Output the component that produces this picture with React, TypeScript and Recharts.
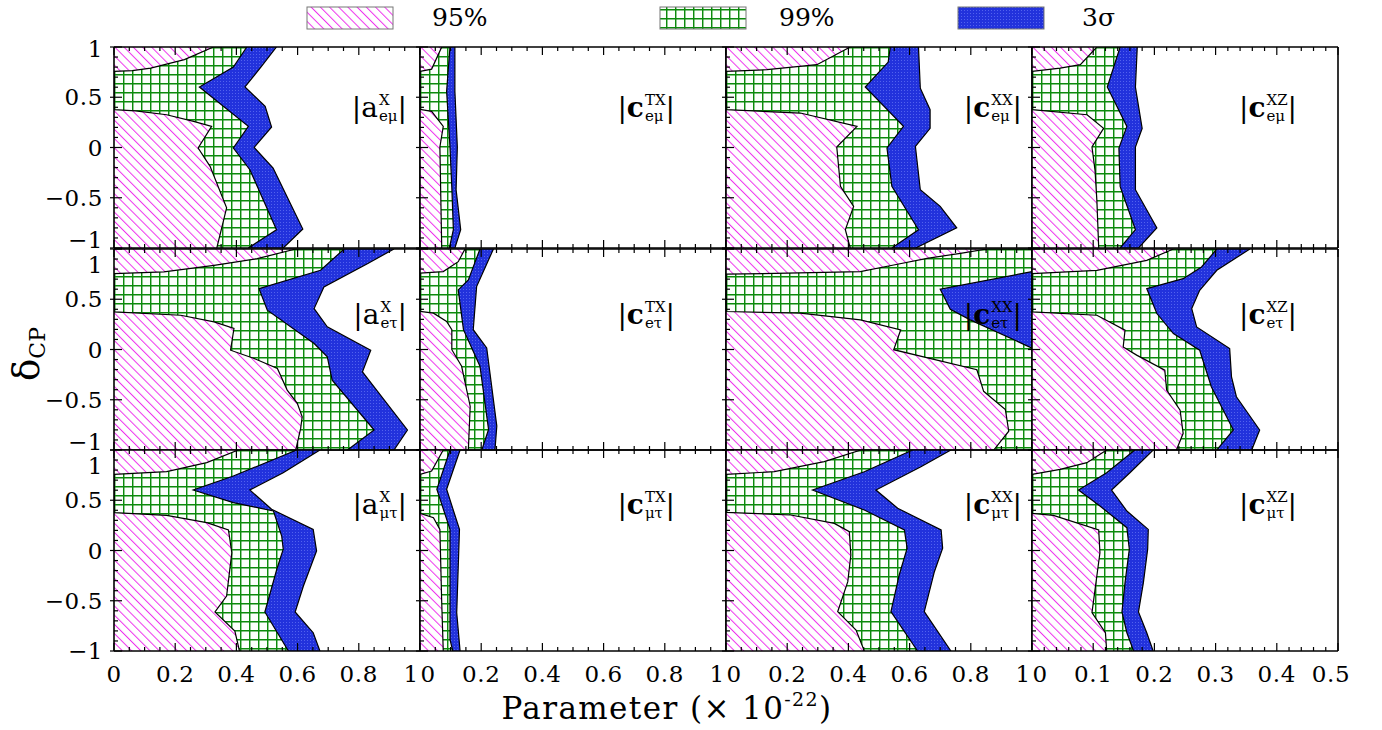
import React from "react";
import { ComposedChart, Area, XAxis, YAxis } from "recharts";

type Pt = [number, number];

// contour boundaries: [deltaCP, parameter]
const aEmu3s: Pt[] = [[-1, 0.553], [-0.811, 0.617], [-0.205, 0.52], [0.001, 0.458], [0.204, 0.515], [0.409, 0.494], [0.602, 0.428], [0.8, 0.48], [1, 0.531]];
const aEmu99: Pt[] = [[-1, 0.439], [-0.818, 0.531], [-0.221, 0.444], [-0.005, 0.39], [0.21, 0.439], [0.602, 0.279], [0.8, 0.39], [1, 0.434]];
const aEmu95: Pt[] = [[-1, 0.336], [-0.6, 0.368], [-0.188, 0.314], [-0.005, 0.275], [0.21, 0.319], [0.26, 0.26], [0.326, 0.172], [0.365, 0.07], [0.376, 0], [0.757, 0], [0.765, 0.06], [0.79, 0.12], [0.874, 0.23], [1, 0.325]];

const cTXemu3s: Pt[] = [[-1, 0.114], [-0.818, 0.133], [-0.42, 0.118], [0.005, 0.122], [0.56, 0.114], [1, 0.114]];
const cTXemu99: Pt[] = [[-1, 0.096], [-0.818, 0.109], [-0.4, 0.104], [0.005, 0.098], [0.56, 0.087], [1, 0.098]];
const cTXemu95: Pt[] = [[-1, 0.071], [0.005, 0.065], [0.21, 0.076], [0.36, 0.038], [0.38, 0], [0.757, 0], [0.78, 0.038], [1, 0.071]];

const cXXemu3s: Pt[] = [[-1, 0.62], [-0.8, 0.754], [-0.585, 0.7], [-0.42, 0.635], [0.01, 0.619], [0.19, 0.667], [0.376, 0.667], [0.59, 0.635], [1, 0.629]];
const cXXemu99: Pt[] = [[-1, 0.542], [-0.818, 0.629], [-0.387, 0.542], [-0.005, 0.526], [0.21, 0.58], [0.602, 0.455], [0.85, 0.53], [1, 0.537]];
const cXXemu95: Pt[] = [[-1, 0.406], [-0.818, 0.39], [-0.586, 0.417], [-0.387, 0.374], [0.005, 0.362], [0.21, 0.428], [0.343, 0.243], [0.376, 0], [0.757, 0], [0.774, 0.134], [0.824, 0.297], [1, 0.406]];

const cXZemu3s: Pt[] = [[-1, 0.174], [-0.8, 0.204], [-0.42, 0.169], [0.005, 0.169], [0.19, 0.18], [0.6, 0.169], [1, 0.172]];
const cXZemu99: Pt[] = [[-1, 0.144], [-0.818, 0.169], [-0.387, 0.144], [-0.005, 0.142], [0.21, 0.155], [0.602, 0.123], [1, 0.144]];
const cXZemu95: Pt[] = [[-1, 0.109], [-0.526, 0.106], [-0.227, 0.103], [0.005, 0.098], [0.19, 0.117], [0.326, 0.09], [0.376, 0], [0.757, 0], [0.79, 0.046], [0.824, 0.079], [1, 0.106]];

const aEtau3s: Pt[] = [[-1, 0.915], [-0.801, 0.959], [-0.222, 0.812], [-0.007, 0.839], [0.225, 0.697], [0.407, 0.654], [0.623, 0.686], [0.854, 0.828], [1, 0.915]];
const aEtau99: Pt[] = [[-1, 0.763], [-0.801, 0.85], [-0.305, 0.713], [-0.073, 0.697], [0.06, 0.654], [0.391, 0.501], [0.606, 0.474], [0.788, 0.675], [1, 0.752]];
const aEtau95: Pt[] = [[-1, 0.594], [-0.785, 0.61], [-0.669, 0.615], [-0.536, 0.599], [-0.404, 0.566], [-0.189, 0.534], [-0.089, 0.458], [-0.007, 0.381], [0.209, 0.392], [0.275, 0.327], [0.341, 0.218], [0.374, 0], [0.755, 0], [0.772, 0.163], [0.838, 0.327], [0.904, 0.468], [1, 0.594]];

const cTXetau3s: Pt[] = [[-1, 0.245], [-0.762, 0.251], [0.015, 0.218], [0.197, 0.174], [0.626, 0.185], [1, 0.24]];
const cTXetau99: Pt[] = [[-1, 0.202], [-0.795, 0.224], [-0.167, 0.196], [0.197, 0.142], [0.593, 0.125], [0.693, 0.158], [1, 0.196]];
const cTXetau95: Pt[] = [[-1, 0.158], [-0.564, 0.164], [-0.167, 0.136], [-0.002, 0.104], [0.197, 0.104], [0.279, 0.087], [0.362, 0.044], [0.379, 0], [0.759, 0], [0.775, 0.076], [0.874, 0.125], [1, 0.147]];

const cXXetau3s: Pt[] = [[-1, 1.3], [1, 1.3]];
const cXXetau99: Pt[] = [[-1, 1.2], [0.014, 1.0], [0.295, 0.798], [0.4, 0.733], [0.6, 0.7], [0.775, 1.0], [1, 1.2]];
const cXXetau95: Pt[] = [[-1, 0.875], [-0.813, 0.924], [-0.598, 0.913], [-0.416, 0.842], [-0.201, 0.82], [-0.002, 0.548], [0.196, 0.571], [0.295, 0.439], [0.362, 0.243], [0.378, 0], [0.749, 0], [0.76, 0.2], [0.775, 0.439], [0.841, 0.548], [0.907, 0.657], [0.957, 0.766], [1, 0.853]];

const cXZetau3s: Pt[] = [[-1, 0.359], [-0.801, 0.372], [-0.47, 0.334], [-0.272, 0.326], [0.01, 0.323], [0.225, 0.269], [0.407, 0.261], [0.589, 0.274], [0.788, 0.302], [1, 0.356]];
const cXZetau99: Pt[] = [[-1, 0.302], [-0.801, 0.329], [-0.371, 0.293], [-0.007, 0.274], [0.159, 0.231], [0.358, 0.204], [0.606, 0.1875], [0.705, 0.247], [0.821, 0.277], [1, 0.302]];
const cXZetau95: Pt[] = [[-1, 0.236], [-0.834, 0.247], [-0.603, 0.242], [-0.404, 0.22], [-0.205, 0.217], [-0.056, 0.171], [0.026, 0.149], [0.192, 0.152], [0.341, 0.106], [0.374, 0], [0.755, 0], [0.788, 0.106], [0.887, 0.1875], [1, 0.231]];

const aMutau3s: Pt[] = [[-1, 0.673], [-0.818, 0.651], [-0.612, 0.592], [-0.353, 0.619], [-0.005, 0.662], [0.21, 0.651], [0.41, 0.515], [0.602, 0.444], [0.774, 0.553], [1, 0.673]];
const aMutau99: Pt[] = [[-1, 0.57], [-0.612, 0.493], [-0.187, 0.532], [0.012, 0.553], [0.144, 0.548], [0.393, 0.521], [0.476, 0.39], [0.602, 0.259], [0.741, 0.39], [1, 0.597]];
const aMutau95: Pt[] = [[-1, 0.41], [-0.801, 0.395], [-0.612, 0.33], [-0.453, 0.368], [-0.022, 0.385], [0.204, 0.374], [0.277, 0.303], [0.35, 0.172], [0.376, 0], [0.758, 0], [0.784, 0.172], [0.874, 0.303], [1, 0.406]];

const cTXmutau3s: Pt[] = [[-1, 0.131], [-0.619, 0.12], [0.21, 0.129], [0.609, 0.087], [1, 0.131]];
const cTXmutau99: Pt[] = [[-1, 0.107], [-0.884, 0.098], [0.21, 0.098], [0.609, 0.055], [1, 0.098]];
const cTXmutau95: Pt[] = [[-1, 0.076], [-0.519, 0.071], [0.21, 0.065], [0.327, 0.044], [0.37, 0], [0.758, 0], [0.791, 0.038], [1, 0.076]];

const cXXmutau3s: Pt[] = [[-1, 0.735], [-0.609, 0.648], [-0.211, 0.681], [0.022, 0.708], [0.204, 0.703], [0.42, 0.561], [0.602, 0.49], [0.834, 0.637], [1, 0.735]];
const cXXmutau99: Pt[] = [[-1, 0.626], [-0.609, 0.539], [-0.244, 0.566], [0.022, 0.592], [0.204, 0.583], [0.403, 0.452], [0.602, 0.283], [0.784, 0.452], [1, 0.61]];
const cXXmutau95: Pt[] = [[-1, 0.452], [-0.791, 0.425], [-0.609, 0.365], [-0.31, 0.398], [-0.045, 0.408], [0.187, 0.403], [0.27, 0.354], [0.353, 0.212], [0.38, 0], [0.758, 0], [0.784, 0.158], [0.884, 0.321], [1, 0.441]];

const cXZmutau3s: Pt[] = [[-1, 0.198], [-0.818, 0.1875], [-0.612, 0.174], [-0.32, 0.182], [0.012, 0.189], [0.21, 0.19], [0.393, 0.155], [0.602, 0.13], [0.774, 0.16], [1, 0.198]];
const cXZmutau99: Pt[] = [[-1, 0.166], [-0.818, 0.155], [-0.612, 0.147], [-0.32, 0.152], [0.012, 0.159], [0.227, 0.155], [0.443, 0.111], [0.602, 0.076], [0.774, 0.122], [1, 0.168]];
const cXZmutau95: Pt[] = [[-1, 0.122], [-0.818, 0.12], [-0.619, 0.098], [-0.022, 0.111], [0.204, 0.109], [0.35, 0.035], [0.37, 0], [0.758, 0], [0.808, 0.046], [0.874, 0.0897], [1, 0.122]];

const X_TICKS_1 = [0, 0.05, 0.1, 0.15, 0.2, 0.25, 0.3, 0.35, 0.4, 0.45, 0.5, 0.55, 0.6, 0.65, 0.7, 0.75, 0.8, 0.85, 0.9, 0.95, 1];
const X_TICKS_05 = [0, 0.02, 0.04, 0.06, 0.08, 0.1, 0.12, 0.14, 0.16, 0.18, 0.2, 0.22, 0.24, 0.26, 0.28, 0.3, 0.32, 0.34, 0.36, 0.38, 0.4, 0.42, 0.44, 0.46, 0.48, 0.5];
const Y_TICKS = [-1, -0.9, -0.8, -0.7, -0.6, -0.5, -0.4, -0.3, -0.2, -0.1, 0, 0.1, 0.2, 0.3, 0.4, 0.5, 0.6, 0.7, 0.8, 0.9, 1];

const LEGEND = [
  { label: "95%", fill: "url(#hatchPink)" },
  { label: "99%", fill: "url(#gridGreen)" },
  { label: "3σ", fill: "url(#dotBlue)" },
];

const PANELS = [
  { base: "a", sup: "X", sub: "eμ", s3: aEmu3s, s99: aEmu99, s95: aEmu95, xmax: 1 },
  { base: "c", sup: "TX", sub: "eμ", s3: cTXemu3s, s99: cTXemu99, s95: cTXemu95, xmax: 1 },
  { base: "c", sup: "XX", sub: "eμ", s3: cXXemu3s, s99: cXXemu99, s95: cXXemu95, xmax: 1 },
  { base: "c", sup: "XZ", sub: "eμ", s3: cXZemu3s, s99: cXZemu99, s95: cXZemu95, xmax: 0.5 },
  { base: "a", sup: "X", sub: "eτ", s3: aEtau3s, s99: aEtau99, s95: aEtau95, xmax: 1 },
  { base: "c", sup: "TX", sub: "eτ", s3: cTXetau3s, s99: cTXetau99, s95: cTXetau95, xmax: 1 },
  { base: "c", sup: "XX", sub: "eτ", s3: cXXetau3s, s99: cXXetau99, s95: cXXetau95, xmax: 1 },
  { base: "c", sup: "XZ", sub: "eτ", s3: cXZetau3s, s99: cXZetau99, s95: cXZetau95, xmax: 0.5 },
  { base: "a", sup: "X", sub: "μτ", s3: aMutau3s, s99: aMutau99, s95: aMutau95, xmax: 1 },
  { base: "c", sup: "TX", sub: "μτ", s3: cTXmutau3s, s99: cTXmutau99, s95: cTXmutau95, xmax: 1 },
  { base: "c", sup: "XX", sub: "μτ", s3: cXXmutau3s, s99: cXXmutau99, s95: cXXmutau95, xmax: 1 },
  { base: "c", sup: "XZ", sub: "μτ", s3: cXZmutau3s, s99: cXZmutau99, s95: cXZmutau95, xmax: 0.5 },
];

const SERIF = "DejaVu Serif, Liberation Serif, serif";
const LEFTS = [114, 420, 726, 1032];
const TOPS = [47, 249, 450];
const PW = 306;
const PH = 201;
const LABEL_RIGHT = [13, 51, 10, 41];
const LABEL_TOP = [45, 50, 39];
const AXIS_LINE = { stroke: "#000", strokeWidth: 1.6 };

const rows = (pts: Pt[]) => pts.map(([d, v]) => ({ d, v }));
const fmt = (v: number) => (v === 0 ? "0" : (v < 0 ? "\u2212" : "") + String(Math.abs(v)));

function AxisTick(props: any) {
  const { x, y, payload, side, step, labels, lo, hi, shiftLo, shiftHi } = props;
  const v: number = payload.value;
  const major = Math.abs(v / step - Math.round(v / step)) < 1e-6;
  const len = major ? 8 : 4;
  const st = { stroke: "#000", strokeWidth: 1.2 };
  let ln;
  if (side === "bottom") ln = <line x1={x} y1={y} x2={x} y2={y - len} {...st} />;
  else if (side === "top") ln = <line x1={x} y1={y} x2={x} y2={y + len} {...st} />;
  else if (side === "left") ln = <line x1={x - (major ? 4 : 0)} y1={y} x2={x + len} y2={y} {...st} />;
  else ln = <line x1={x} y1={y} x2={x - len} y2={y} {...st} />;
  let txt = null;
  if (labels && major) {
    const shift = v === lo ? shiftLo : v === hi ? shiftHi : 0;
    const common = { fontFamily: SERIF, fontSize: 23, fill: "#000", letterSpacing: 0.6 };
    if (side === "bottom")
      txt = <text x={x + shift} y={y + 31} textAnchor="middle" {...common}>{fmt(v)}</text>;
    else if (side === "left")
      txt = <text x={x - 11} y={y + shift + 8} textAnchor="end" {...common}>{fmt(v)}</text>;
  }
  return <g>{ln}{txt}</g>;
}

function Panel({ p, row, col }: { p: (typeof PANELS)[number]; row: number; col: number }) {
  const xt = p.xmax === 1 ? X_TICKS_1 : X_TICKS_05;
  const xStep = p.xmax === 1 ? 0.2 : 0.1;
  const tickFor = (side: string, labels: boolean, isX: boolean) => (tp: any) => (
    <AxisTick
      {...tp}
      side={side}
      step={isX ? xStep : 0.5}
      labels={labels}
      lo={isX ? 0 : -1}
      hi={isX ? p.xmax : 1}
      shiftLo={isX ? (col > 0 ? 8 : 0) : row < 2 ? -8 : 0}
      shiftHi={isX ? (col < 3 ? -9 : -7) : row > 0 ? 16 : 2}
    />
  );
  const areaProps = {
    type: "linear" as const,
    dataKey: "v",
    xAxisId: 0,
    yAxisId: 0,
    stroke: "#000",
    strokeWidth: 1.2,
    fillOpacity: 1,
    dot: false,
    activeDot: false,
    isAnimationActive: false,
  };
  return (
    <div style={{ position: "absolute", left: LEFTS[col], top: TOPS[row], width: PW, height: PH }}>
      <ComposedChart layout="vertical" width={PW} height={PH} margin={{ top: 0, right: 0, bottom: 0, left: 0 }}>
        <Area {...areaProps} data={rows(p.s3)} fill="url(#dotBlue)" />
        <Area {...areaProps} data={rows(p.s99)} fill="url(#gridGreen)" />
        <Area {...areaProps} data={rows(p.s95)} fill="url(#hatchPink)" />
        <XAxis xAxisId={0} type="number" orientation="bottom" mirror domain={[0, p.xmax]} allowDataOverflow
          ticks={xt} interval={0} tickLine={false} tickSize={0} tickMargin={0} axisLine={AXIS_LINE}
          tick={tickFor("bottom", row === 2, true)} />
        <XAxis xAxisId="t" type="number" orientation="top" mirror domain={[0, p.xmax]} allowDataOverflow
          ticks={xt} interval={0} tickLine={false} tickSize={0} tickMargin={0} axisLine={AXIS_LINE}
          tick={tickFor("top", false, true)} />
        <YAxis yAxisId={0} type="number" dataKey="d" orientation="left" mirror reversed domain={[-1, 1]} allowDataOverflow
          ticks={Y_TICKS} interval={0} tickLine={false} tickSize={0} tickMargin={0} axisLine={AXIS_LINE}
          tick={tickFor("left", col === 0, false)} />
        <YAxis yAxisId="r" type="number" orientation="right" mirror reversed domain={[-1, 1]} allowDataOverflow
          ticks={Y_TICKS} interval={0} tickLine={false} tickSize={0} tickMargin={0} axisLine={AXIS_LINE}
          tick={tickFor("right", false, false)} />
      </ComposedChart>
    </div>
  );
}

function PanelLabel({ p, row, col }: { p: (typeof PANELS)[number]; row: number; col: number }) {
  return (
    <div
      style={{
        position: "absolute",
        right: 1382 - (LEFTS[col] + PW) + LABEL_RIGHT[col],
        top: TOPS[row] + LABEL_TOP[row],
        display: "flex",
        alignItems: "center",
        fontFamily: SERIF,
        fontSize: 28,
        lineHeight: 1,
        color: "#000",
      }}
    >
      <span>|</span>
      <span style={{ fontWeight: p.base === "c" ? "bold" : "normal" }}>{p.base}</span>
      <span style={{ display: "inline-flex", flexDirection: "column", fontSize: 15, lineHeight: "16px", marginLeft: 1 }}>
        <span>{p.sup}</span>
        <span>{p.sub}</span>
      </span>
      <span>|</span>
    </div>
  );
}

export default function App() {
  return (
    <div style={{ position: "relative", width: 1382, height: 730, background: "#fff", overflow: "hidden" }}>
      <style>{`body{margin:0} .recharts-surface{overflow:visible}`}</style>
      <svg width={0} height={0} style={{ position: "absolute" }}>
        <defs>
          <pattern id="hatchPink" width="6.5" height="6.5" patternUnits="userSpaceOnUse" patternTransform="rotate(-45)">
            <rect width="6.5" height="6.5" fill="#fff" />
            <line x1="0" y1="0" x2="0" y2="6.5" stroke="#ee33ee" strokeWidth="2" />
          </pattern>
          <pattern id="gridGreen" width="9" height="9" patternUnits="userSpaceOnUse">
            <rect width="9" height="9" fill="#fbfffb" />
            <path d="M0 0.7 H9 M0.7 0 V9" stroke="#0b8a0b" strokeWidth="1.5" />
          </pattern>
          <pattern id="dotBlue" width="3" height="3" patternUnits="userSpaceOnUse">
            <rect width="3" height="3" fill="#2232dc" />
            <rect x="1" y="1" width="1" height="1" fill="#5262ee" />
          </pattern>
        </defs>
      </svg>

      {PANELS.map((p, i) => (
        <Panel key={i} p={p} row={Math.floor(i / 4)} col={i % 4} />
      ))}
      {PANELS.map((p, i) => (
        <PanelLabel key={"l" + i} p={p} row={Math.floor(i / 4)} col={i % 4} />
      ))}

      <svg width={1382} height={730} style={{ position: "absolute", left: 0, top: 0, pointerEvents: "none" }}>
        {LEGEND.map((l, i) => {
          const sx = [307, 660, 958][i];
          const tx = [432, 779, 1082][i];
          return (
            <g key={l.label}>
              <rect x={sx} y={7} width={86} height={22} fill={l.fill} stroke="#777" strokeWidth={1} />
              <text x={tx} y={26} fontFamily={SERIF} fontSize={25} fill="#000">{l.label}</text>
            </g>
          );
        })}
        <text transform="translate(39,354) rotate(-90)" textAnchor="middle" fontFamily={SERIF} fill="#000">
          <tspan fontSize={37}>δ</tspan>
          <tspan fontSize={22} dy={6}>CP</tspan>
        </text>
        <text x={667} y={719} textAnchor="middle" fontFamily={SERIF} fontSize={31} letterSpacing={1.4} fill="#000">
          Parameter (× 10<tspan fontSize={19} dy={-13}>-22</tspan><tspan dy={13}>)</tspan>
        </text>
      </svg>
    </div>
  );
}
